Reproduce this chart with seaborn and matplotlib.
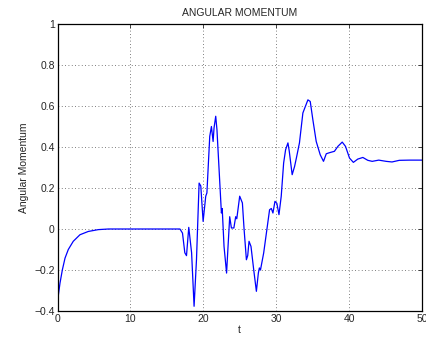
import matplotlib
matplotlib.use("Agg")
import matplotlib.pyplot as plt
import seaborn as sns
import pandas as pd

# time samples and angular momentum readings
t = [0.0, 0.34, 0.66, 1.03, 1.48, 2.16, 3.08, 4.22, 5.6, 7.0, 10.0, 14.0,
     16.8, 17.15, 17.47, 17.7, 18.01, 18.4, 18.74, 19.07, 19.43, 19.66, 19.98,
     20.34, 20.5, 20.89, 21.12, 21.35, 21.48, 21.71, 21.88, 22.49, 22.6, 22.85,
     23.2, 23.4, 23.63, 23.86, 24.2, 24.45, 24.6, 25.0, 25.37, 25.6, 25.92,
     26.1, 26.28, 26.55, 26.92, 27.29, 27.56, 27.7, 27.85, 28.29, 28.74, 29.1,
     29.34, 29.56, 29.84, 30.1, 30.39, 30.7, 31.03, 31.3, 31.62, 31.8, 32.2,
     32.53, 32.8, 33.2, 33.67, 34.36, 34.68, 35.04, 35.5, 36.05, 36.5, 36.88,
     37.3, 38.0, 38.47, 39.07, 39.52, 40.07, 40.6, 41.2, 41.9, 42.58, 43.18,
     44.08, 45.1, 45.9, 46.9, 48.3, 50.0]
momentum = [-0.353, -0.264, -0.2, -0.142, -0.1, -0.06, -0.028, -0.012, -0.003,
            0.0, 0.0, 0.0,
            0.0, -0.02, -0.116, -0.13, 0.008, -0.116, -0.377, -0.15, 0.224,
            0.21, 0.037, 0.16, 0.176, 0.452, 0.50, 0.427, 0.493, 0.55, 0.484,
            0.078, 0.10, -0.085, -0.215, -0.085, 0.06, 0.005, 0.005, 0.06,
            0.05, 0.16, 0.127, 0.0, -0.15, -0.13, -0.06, -0.085, -0.198,
            -0.304, -0.215, -0.19, -0.2, -0.117, 0.0, 0.094, 0.10, 0.078,
            0.135, 0.125, 0.07, 0.16, 0.322, 0.387, 0.42, 0.38, 0.265, 0.305,
            0.35, 0.42, 0.566, 0.63, 0.622, 0.533, 0.427, 0.362, 0.33, 0.367,
            0.372, 0.379, 0.403, 0.424, 0.403, 0.346, 0.325, 0.341, 0.349,
            0.335, 0.33, 0.336, 0.33, 0.327, 0.335, 0.336, 0.336]

x_ticks = [0, 10, 20, 30, 40, 50]
y_ticks = [-0.4, -0.2, 0, 0.2, 0.4, 0.6, 0.8, 1]

sns.set_style("white")
plt.rcParams["font.family"] = ["Liberation Sans", "DejaVu Sans"]

df = pd.DataFrame({"t": t, "momentum": momentum})

fig = plt.figure(figsize=(4.27, 3.4), dpi=100)
ax = fig.add_axes([0.1347, 0.0853, 0.8533, 0.8441])

sns.lineplot(data=df, x="t", y="momentum", ax=ax, color="#0000ff",
             linewidth=0.9, estimator=None)

ax.set_xlim(0, 50)
ax.set_ylim(-0.4, 1)
ax.set_xticks(x_ticks)
ax.set_yticks(y_ticks)
ax.set_xticklabels([str(v) for v in x_ticks])
ax.set_yticklabels(["\u22120.4", "\u22120.2", "0", "0.2", "0.4", "0.6", "0.8", "1"])
ax.tick_params(direction="in", length=3, width=0.6, labelsize=7.5,
               top=True, right=True, pad=2)

ax.grid(True, linestyle=(0, (1, 3)), color="#555555", linewidth=0.6)
for s in ax.spines.values():
    s.set_color("black")
    s.set_linewidth(0.9)

ax.set_title("ANGULAR MOMENTUM", fontsize=7.5, pad=6)
ax.set_xlabel("t", fontsize=7.5, labelpad=1)
ax.set_ylabel("Angular Momentum", fontsize=7.5, labelpad=4)

fig.savefig("out.png", dpi=100)
